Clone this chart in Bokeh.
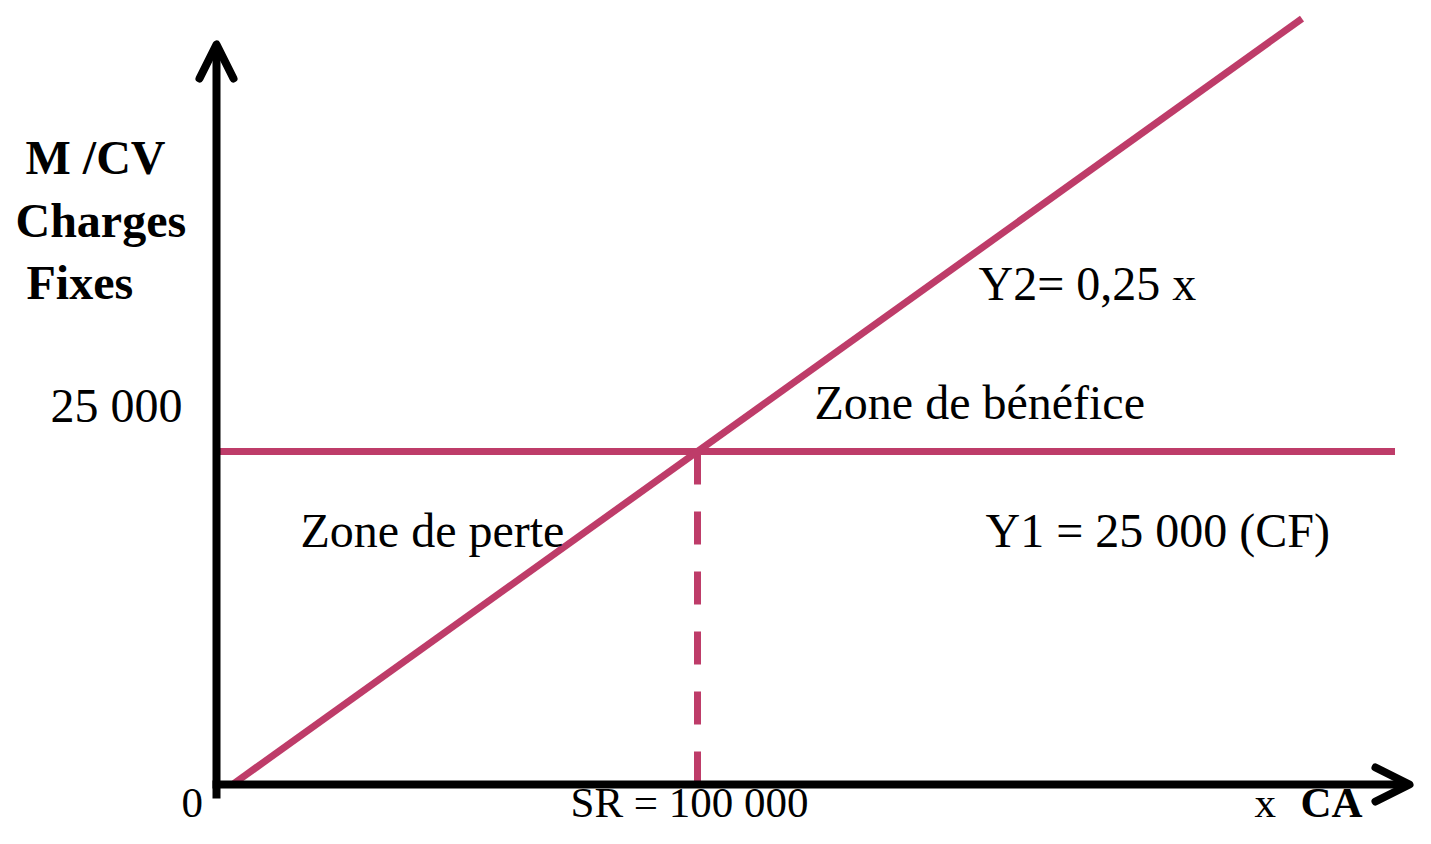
from bokeh.plotting import figure
from bokeh.models import Range1d, Arrow, OpenHead, ColumnDataSource
from bokeh.core.properties import value
from bokeh.embed import file_html
from bokeh.resources import INLINE

# ---- data ----
fixed_costs = [25000, 25000]          # Y1 = 25 000 (CF)
fc_x = [-3400, 250000]
ca = [0, 230000]                      # chiffre d'affaires
y2 = [0, 57500]                       # Y2 = 0,25 x
sr_x = [100000, 100000]               # seuil de rentabilite
sr_y = [25000, 0]

COLOR = "#BE3C69"
FONT = value("Liberation Serif")

W, H = 1415, 828
# pixel -> data mapping
KX = 0.00465
KY = 0.01332
X0_PX, Y0_PX = 232, 784
TXT_SHIFT = 15

def dx(px):
    return (px - X0_PX) / KX

def dy(py):
    return (Y0_PX - py) / KY

def ty(py):
    return dy(py - TXT_SHIFT)

p = figure(width=W, height=H, output_backend="svg", toolbar_location=None,
           x_range=Range1d(dx(0), dx(W)), y_range=Range1d(dy(H), dy(0)),
           x_axis_type=None, y_axis_type=None, min_border=0)
p.grid.visible = False
p.outline_line_color = None
p.background_fill_color = "white"
p.border_fill_color = "white"

# axes with arrows
axis_x = dx(216)
p.add_layout(Arrow(end=OpenHead(size=34, line_width=8, line_color="black",
                                line_join="round", line_cap="round"),
                   x_start=axis_x, y_start=dy(798), x_end=axis_x, y_end=dy(44),
                   line_width=8, line_color="black"))
p.add_layout(Arrow(end=OpenHead(size=34, line_width=8, line_color="black",
                                line_join="round", line_cap="round"),
                   x_start=dx(212), y_start=0, x_end=dx(1409), y_end=0,
                   line_width=8, line_color="black"))

# Y1 horizontal
p.line(fc_x, fixed_costs, line_color=COLOR, line_width=7)
# dashed SR line
p.line(sr_x, sr_y, line_color=COLOR, line_width=7, line_dash="33 27")
# Y2
p.line(ca, y2, line_color=COLOR, line_width=7)

labels = dict(
    x=[dx(25), dx(15), dx(26), dx(50),
       dx(300), dx(978), dx(814), dx(985)],
    y=[ty(172), ty(235), ty(297), ty(420),
       ty(545), ty(298), ty(417), ty(545)],
    t=["M /CV", "Charges", "Fixes", "25 000",
       "Zone de perte", "Y2= 0,25 x", "Zone de bénéfice", "Y1 = 25 000 (CF)"],
    s=["bold", "bold", "bold", "normal",
       "normal", "normal", "normal", "normal"],
)
src = ColumnDataSource(labels)
p.text(x="x", y="y", text="t", source=src, text_font=FONT, text_font_size="48px",
       text_font_style="s", text_align="left", text_baseline="alphabetic",
       text_color="black")

bottom = dict(
    x=[dx(181), dx(570), dx(1254), dx(1300)],
    y=[ty(817), ty(817), ty(817), ty(817)],
    t=["0", "SR = 100 000", "x", "CA"],
    s=["normal", "normal", "normal", "bold"],
)
p.text(x="x", y="y", text="t", source=ColumnDataSource(bottom), text_font=FONT,
       text_font_size="43px", text_font_style="s", text_align="left",
       text_baseline="alphabetic", text_color="black")

open("out.html", "w").write(file_html(p, INLINE))
